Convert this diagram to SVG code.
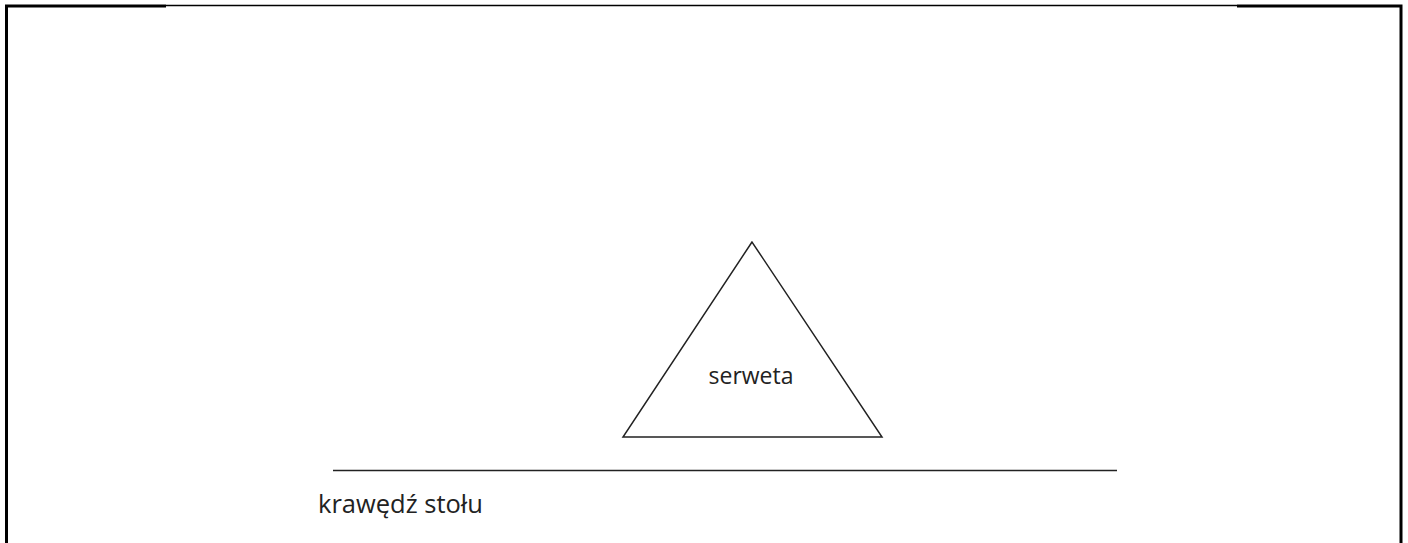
<svg xmlns="http://www.w3.org/2000/svg" width="1408" height="543" viewBox="0 0 1408 543">
<style>
.b{stroke:#000;stroke-width:3;fill:none}
.t{stroke:#222;stroke-width:1.5;fill:none}
.lbl{font-family:"Open Sans","Segoe UI",sans-serif;fill:#222}
</style>
<rect width="1408" height="543" fill="#fff"/>
<g id="frame">
<path class="b" d="M6.5,543 V6 H166"/>
<path class="b" d="M1237,6 H1401 V543"/>
<line x1="166" y1="5.5" x2="1237" y2="5.5" stroke="#000" stroke-width="1.5"/>
</g>
<g id="serweta">
<polygon class="t" points="752,242 623,437 882,437"/>
<text class="lbl" x="751" y="384" text-anchor="middle" font-size="23">serweta</text>
</g>
<g id="stol">
<line class="t" x1="333" y1="470.5" x2="1117" y2="470.5"/>
<text class="lbl" x="318" y="513" font-size="25.5">krawędź stołu</text>
</g>
</svg>
